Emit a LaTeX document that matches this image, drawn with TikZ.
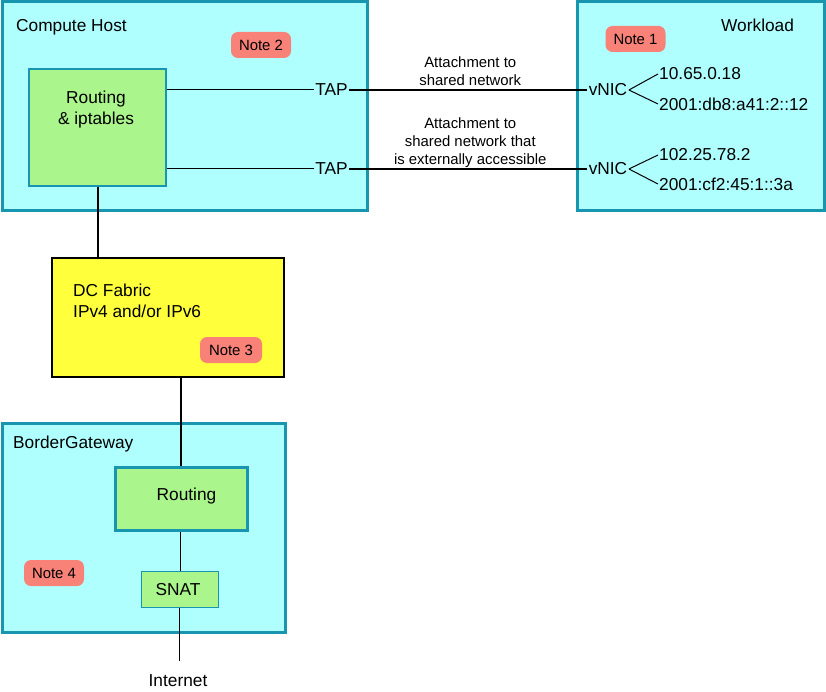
\documentclass[tikz,border=0pt]{standalone}
\usepackage{fontspec}
\setmainfont{Liberation Sans}
\definecolor{cyanfill}{RGB}{176,255,255}
\definecolor{tealb}{RGB}{25,150,175}
\definecolor{greenfill}{RGB}{170,245,140}
\definecolor{yellowfill}{RGB}{255,255,60}
\definecolor{notefill}{RGB}{248,130,120}
\begin{document}
\begin{tikzpicture}[x=1pt,y=-1pt,
  big/.style={font=\fontsize{17.3}{21}\selectfont},
  small/.style={font=\fontsize{14.9}{18}\selectfont},
  host/.style={draw=tealb,fill=cyanfill,line width=3pt,inner sep=0pt},
  greenbox/.style={draw=tealb,fill=greenfill,line width=2.6pt,inner sep=0pt},
  thinbox/.style={draw=tealb,fill=greenfill,line width=1pt,inner sep=0pt},
  fabric/.style={draw=black,fill=yellowfill,line width=1.2pt,inner sep=0pt},
  notebox/.style={fill=notefill,rounded corners=7pt,minimum width=60pt,minimum height=26pt,inner sep=0pt,small},
  txt/.style={inner sep=1.5pt,big},
  thin/.style={line width=1pt},
  thick/.style={line width=2pt}]
\useasboundingbox (0,0) rectangle (826,692);
% containers
\node[host,minimum width=365pt,minimum height=209pt] (ch) at (184.5,106.5) {};
\node[host,minimum width=247pt,minimum height=209pt] (wl) at (700.5,106.5) {};
\node[host,minimum width=283pt,minimum height=209pt] (bg) at (143.5,527.5) {};
\node[big,anchor=base west,inner sep=0pt] (chl) at (16,32) {Compute Host};
\node[big,anchor=base west,inner sep=0pt] (wll) at (721,32) {Workload};
\node[big,anchor=base west,inner sep=0pt] (bgl) at (13,448) {BorderGateway};
% notes
\node[notebox] (n2) at (261,45) {Note 2};
\node[notebox] (n1) at (635.5,39) {Note 1};
% routing & iptables
\node[greenbox,minimum width=137pt,minimum height=117pt] (rt) at (97.5,127.5) {};
\node[big,align=center,inner sep=0pt] (rtl) at (96,110) {Routing\\\& iptables};
% TAPs and vNICs
\node[txt] (tap1) at (331.5,90) {TAP};
\node[txt] (tap2) at (331.5,169) {TAP};
\node[txt] (vnic1) at (608,90) {vNIC};
\node[txt] (vnic2) at (608,169) {vNIC};
\node[txt,anchor=west,inner sep=1pt] (ip1) at (658,74) {10.65.0.18};
\node[txt,anchor=west,inner sep=1pt] (ip2) at (658,104) {2001:db8:a41:2::12};
\node[txt,anchor=west,inner sep=1pt] (ip3) at (658,155) {102.25.78.2};
\node[txt,anchor=west,inner sep=1pt] (ip4) at (658,184) {2001:cf2:45:1::3a};
\draw[thin] (tap1.west -| rt.east) -- (tap1.west);
\draw[thin] (tap2.west -| rt.east) -- (tap2.west);
\draw[thick] (tap1.east) -- node[small,align=center,anchor=south,inner sep=3pt,xshift=2pt] {Attachment to\\shared network} (vnic1.west);
\draw[thick] (tap2.east) -- node[small,align=center,anchor=south,inner sep=0pt,xshift=2pt] {Attachment to\\shared network that\\is externally accessible} (vnic2.west);
\draw[thin] (vnic1.east) -- (ip1.west);
\draw[thin] (vnic1.east) -- (ip2.west);
\draw[thin] (vnic2.east) -- (ip3.west);
\draw[thin] (vnic2.east) -- (ip4.west);
% DC fabric
\node[fabric,minimum width=232pt,minimum height=119pt] (dc) at (168,317.5) {};
\node[big,anchor=base west,inner sep=0pt] (dcl) at (73,296) {DC Fabric};
\node[big,anchor=base west,inner sep=0pt] (dcl2) at (73,317) {IPv4 and/or IPv6};
\node[notebox,minimum width=62pt] (n3) at (231,350) {Note 3};
\draw[thick] (rt.south) -- (rt.south |- dc.north);
% border gateway
\node[greenbox,line width=3pt,minimum width=132pt,minimum height=63pt] (r2) at (181,498.5) {};
\node[big,inner sep=0pt] (r2l) at (186.5,496) {Routing};
\draw[thick] (r2.north |- dc.south) -- (r2.north);
\node[thinbox,minimum width=77pt,minimum height=36pt] (snat) at (179.5,589) {};
\node[big,inner sep=0pt] (snatl) at (178,590) {SNAT};
\node[notebox] (n4) at (54,573) {Note 4};
\draw[thin] (r2.south -| 180,0) -- (snat.north -| 180,0);
\node[big,inner sep=0pt,anchor=base] (inet) at (178,686) {Internet};
\draw[thin] (snat.south -| 179,0) -- (179,661);
\end{tikzpicture}
\end{document}
